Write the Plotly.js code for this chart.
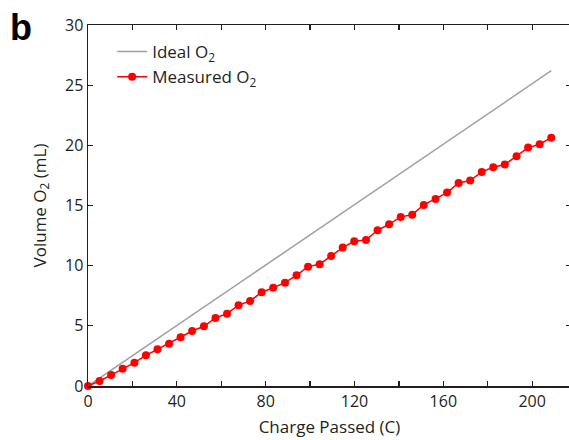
<!DOCTYPE html>
<html>
<head>
<meta charset="utf-8">
<script src="https://cdn.plot.ly/plotly-3.0.1.min.js"></script>
<style>
html,body{margin:0;padding:0;overflow:hidden;background:#fff;}
#chart{width:575px;height:440px;}
</style>
</head>
<body>
<div id="chart"></div>
<script>
// Charge passed (C) for measured points
const chargeMeasured = [0, 5.2, 10.4, 15.6, 20.9, 26.1, 31.3, 36.5, 41.7, 46.9,
  52.2, 57.4, 62.6, 67.8, 73.0, 78.2, 83.4, 88.7, 93.9, 99.1,
  104.3, 109.5, 114.7, 119.9, 125.2, 130.4, 135.6, 140.8, 146.0, 151.2,
  156.5, 161.7, 166.9, 172.1, 177.3, 182.5, 187.7, 193.0, 198.2, 203.4, 208.6];
// Measured O2 volume (mL)
const volumeMeasured = [0, 0.42, 0.91, 1.44, 1.94, 2.55, 3.05, 3.52, 4.05, 4.57,
  4.96, 5.65, 6.01, 6.71, 7.07, 7.79, 8.17, 8.59, 9.20, 9.92,
  10.12, 10.81, 11.50, 12.03, 12.14, 12.94, 13.44, 14.05, 14.24, 15.05,
  15.54, 16.07, 16.87, 17.07, 17.79, 18.18, 18.40, 19.09, 19.81, 20.09, 20.64];
// Ideal O2 line endpoints
const chargeIdeal = [0, 208.6];
const volumeIdeal = [0, 26.2];

const xTickVals = [0, 40, 80, 120, 160, 200];
const yTickVals = [0, 5, 10, 15, 20, 25, 30];

const FONT = "Open Sans, Noto Sans, sans-serif";
const INK = "#231f20";

const traces = [
  {
    x: chargeIdeal, y: volumeIdeal, mode: "lines", name: "Ideal O<sub>2</sub>",
    line: {color: "#a0a0a0", width: 1.5}, cliponaxis: false
  },
  {
    x: chargeMeasured, y: volumeMeasured, mode: "lines+markers", name: "Measured O<sub>2</sub>",
    line: {color: "#ff0000", width: 1.5},
    marker: {color: "#ff0000", size: 8},
    cliponaxis: false
  }
];

const layout = {
  width: 575, height: 440,
  margin: {l: 88, r: 4, t: 25, b: 54},
  paper_bgcolor: "#fff", plot_bgcolor: "#fff",
  font: {family: FONT, size: 16, color: INK},
  showlegend: true,
  legend: {x: 0.05, y: 0.975, xanchor: "left", yanchor: "top",
    bgcolor: "rgba(0,0,0,0)", font: {size: 17, color: INK},
    tracegroupgap: 0, itemwidth: 30},
  xaxis: {
    range: [0, 217.5], tickvals: xTickVals, ticktext: xTickVals.map(String),
    ticks: "inside", ticklen: 5, tickwidth: 1.2, tickcolor: INK,
    minor: {dtick: 20, tick0: 0, ticks: "inside", ticklen: 5, tickwidth: 1.2, tickcolor: INK},
    showline: true, linecolor: INK, linewidth: 1.5, mirror: "ticks",
    showgrid: false, zeroline: false,
    tickfont: {size: 16, color: INK},
    title: {text: "Charge Passed (C)", font: {size: 17, color: INK}, standoff: 10}
  },
  yaxis: {
    range: [0, 30], tickvals: yTickVals, ticktext: yTickVals.map(String),
    ticks: "inside", ticklen: 5, tickwidth: 1.2, tickcolor: INK,
    showline: true, linecolor: INK, linewidth: 1.5, mirror: "ticks",
    showgrid: false, zeroline: false,
    tickfont: {size: 16, color: INK},
    title: {text: "Volume O<sub>2</sub> (mL)", font: {size: 17, color: INK}, standoff: 14}
  },
  annotations: [
    {text: "<b>b</b>", xref: "paper", yref: "paper", x: -0.165, y: 1.055,
     xanchor: "left", yanchor: "top", showarrow: false,
     font: {family: "Liberation Sans, Arial, sans-serif", size: 36, color: "#000"}}
  ]
};

Plotly.newPlot("chart", traces, layout, {displayModeBar: false, staticPlot: true});
</script>
</body>
</html>
